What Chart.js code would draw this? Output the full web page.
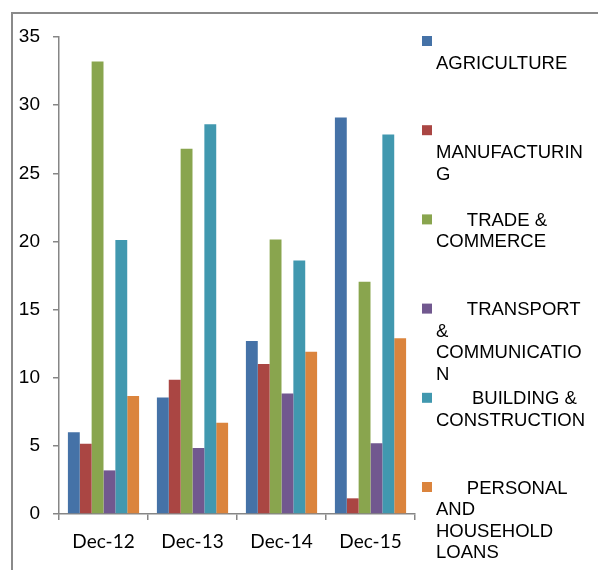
<!DOCTYPE html>
<html>
<head>
<meta charset="utf-8">
<script src="https://cdn.jsdelivr.net/npm/chart.js@4"></script>
<style>
  html, body { margin: 0; padding: 0; background: #fff; }
  #wrap { position: relative; width: 598px; height: 570px; }
</style>
</head>
<body>
<div id="wrap"><canvas id="sector-chart" width="598" height="570"></canvas></div>
<script>
const categories = ['Dec-12', 'Dec-13', 'Dec-14', 'Dec-15'];
const yTicks = [0, 5, 10, 15, 20, 25, 30, 35];

const agriculture = [6.0, 8.55, 12.7, 29.1];
const manufacturing = [5.15, 9.85, 11.0, 1.15];
const tradeCommerce = [33.2, 26.8, 20.15, 17.05];
const transportComm = [3.2, 4.85, 8.85, 5.2];
const buildingConstr = [20.1, 28.6, 18.6, 27.85];
const personalLoans = [8.65, 6.7, 11.9, 12.9];

const seriesNames = ['AGRICULTURE', 'MANUFACTURING', 'TRADE & COMMERCE',
  'TRANSPORT & COMMUNICATION', 'BUILDING & CONSTRUCTION', 'PERSONAL AND HOUSEHOLD LOANS'];
// legend text as it wraps in the original
const legendLines = [
  ['', 'AGRICULTURE'],
  ['', 'MANUFACTURIN', 'G'],
  ['      TRADE &', 'COMMERCE'],
  ['      TRANSPORT', '&', 'COMMUNICATIO', 'N'],
  ['       BUILDING &', 'CONSTRUCTION'],
  ['      PERSONAL', 'AND', 'HOUSEHOLD', 'LOANS']
];
const colors = ['#4572A7', '#AA4643', '#89A54E', '#71588F', '#4198AF', '#DB843D'];
const values = [agriculture, manufacturing, tradeCommerce, transportComm, buildingConstr, personalLoans];

const ctx = document.getElementById('sector-chart');

const frame = {
  id: 'frame',
  beforeDraw(chart) {
    const c = chart.ctx;
    c.save();
    c.strokeStyle = '#8a8a8a';
    c.lineWidth = 2;
    c.beginPath();
    c.moveTo(12, 570);
    c.lineTo(12, 13);
    c.lineTo(598, 13);
    c.stroke();
    c.restore();
  }
};

const sideLegend = {
  id: 'sideLegend',
  afterDraw(chart) {
    const c = chart.ctx;
    c.save();
    c.font = '18.5px "Liberation Sans", Arial, sans-serif';
    c.textBaseline = 'middle';
    chart.data.datasets.forEach((ds, i) => {
      const y0 = 41 + i * 89.2;
      c.fillStyle = ds.backgroundColor;
      c.fillRect(422, y0 - 5, 10, 10);
      c.fillStyle = '#000';
      legendLines[i].forEach((line, j) => {
        c.fillText(line, 436, y0 + 1.5 + j * 21.5);
      });
    });
    c.restore();
  }
};

new Chart(ctx, {
  type: 'bar',
  data: {
    labels: categories,
    datasets: values.map((v, i) => ({
      label: seriesNames[i],
      data: v,
      backgroundColor: colors[i],
      borderWidth: 0,
      barPercentage: 1.0,
      categoryPercentage: 0.8
    }))
  },
  options: {
    responsive: false,
    animation: false,
    devicePixelRatio: 1,
    layout: { padding: { top: 37, right: 183, left: 0, bottom: 0 } },
    plugins: {
      legend: { display: false },
      tooltip: { enabled: false }
    },
    scales: {
      x: {
        grid: { drawOnChartArea: false, drawTicks: true, tickLength: 6, color: '#868686', lineWidth: 1.5, offset: true },
        border: { color: '#868686', width: 1.5 },
        ticks: { color: '#000', font: { family: 'Lato', size: 19 }, padding: 10, maxRotation: 0, autoSkip: false },
        afterFit(s) { s.height = 56; }
      },
      y: {
        min: yTicks[0],
        max: yTicks[yTicks.length - 1],
        grid: { drawOnChartArea: false, drawTicks: true, tickLength: 6, color: '#868686', lineWidth: 1.5 },
        border: { color: '#868686', width: 1.5 },
        ticks: { color: '#000', font: { family: '"Liberation Sans", Arial', size: 19 }, padding: 13, stepSize: yTicks[1] - yTicks[0], autoSkip: false },
        afterFit(s) { s.width = 59; }
      }
    }
  },
  plugins: [frame, sideLegend]
});
</script>
</body>
</html>
